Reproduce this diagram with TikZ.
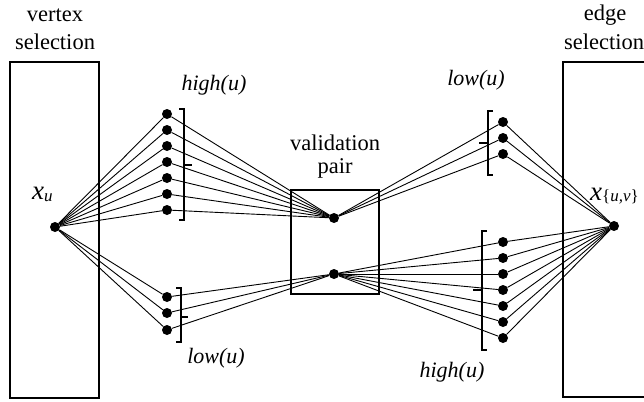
\documentclass[tikz,border=0pt]{standalone}
\usepackage{fontspec}
\setmainfont{Liberation Serif}
\begin{document}
\begin{tikzpicture}[x=1pt,y=-1pt,
  dot/.style={circle,fill=black,inner sep=0pt,minimum size=10pt},
  box/.style={draw=black,line width=2pt},
  wire/.style={draw=black,line width=0.9pt},
  brk/.style={draw=black,line width=1.6pt},
  lbl/.style={font=\fontsize{22.5}{24}\selectfont,inner sep=0pt,align=center},
  ilbl/.style={font=\fontsize{22}{24}\selectfont\itshape,inner sep=0pt}]
\clip (0,0) rectangle (644,401);
\fill[white] (0,0) rectangle (644,401);
% boxes
\draw[box] (10,62) rectangle (99,398);
\draw[box] (291,190) rectangle (379,294);
\draw[box] (563,62) rectangle (680,397);
% labels
\node[lbl] (vs1) at (55,15) {vertex};
\node[lbl] (vs2) at (55,42) {selection};
\node[lbl] (es1) at (605,15) {edge};
\node[lbl,anchor=west] (es2) at (564,42) {selection};
\node[lbl] (vp1) at (335,143) {validation};
\node[lbl] (vp2) at (335,168) {pair};
\node[ilbl] (hl) at (214,85) {high(u)};
\node[ilbl] (ll) at (216,358) {low(u)};
\node[ilbl] (lr) at (476,80) {low(u)};
\node[ilbl] (hr) at (452,372) {high(u)};
\node[ilbl,font=\fontsize{27}{28}\selectfont\itshape,anchor=west] (xul) at (32,194) {x\raisebox{-2pt}{\fontsize{17}{18}\selectfont u}};
\node[ilbl,font=\fontsize{27}{28}\selectfont\itshape,anchor=west] (xuvl) at (590,196) {x\raisebox{-1pt}{\fontsize{17}{18}\selectfont\upshape\{\itshape u,v\upshape\}}};
% main dots
\node[dot] (xu) at (55,227) {};
\node[dot] (mu) at (334,218) {};
\node[dot] (ml) at (334,274) {};
\node[dot] (xuv) at (614,226) {};
% left high
\foreach \i/\y in {1/114,2/130,3/146,4/162,5/178,6/194,7/210}{
  \node[dot] (lh\i) at (167,\y) {};
  \draw[wire] (xu) -- (lh\i);
  \draw[wire] (lh\i) -- (mu);
}
% left low
\foreach \i/\y in {1/297,2/313,3/330}{
  \node[dot] (ll\i) at (167,\y) {};
  \draw[wire] (xu) -- (ll\i);
  \draw[wire] (ll\i) -- (ml);
}
% right low
\foreach \i/\y in {1/122,2/138,3/154}{
  \node[dot] (rl\i) at (503,\y) {};
  \draw[wire] (mu) -- (rl\i);
  \draw[wire] (rl\i) -- (xuv);
}
% right high
\foreach \i/\y in {1/242,2/258,3/274,4/290,5/306,6/322,7/338}{
  \node[dot] (rh\i) at (503,\y) {};
  \draw[wire] (ml) -- (rh\i);
  \draw[wire] (rh\i) -- (xuv);
}
% brackets
\draw[brk] (179,109) -- (184,109) -- (184,220) -- (179,220);
\draw[brk] (184,165) -- (192,165);
\draw[brk] (176,288) -- (181,288) -- (181,342) -- (176,342);
\draw[brk] (181,317) -- (188,317);
\draw[brk] (493,111) -- (488,111) -- (488,175) -- (493,175);
\draw[brk] (488,143) -- (479,143);
\draw[brk] (487,231) -- (482,231) -- (482,350) -- (487,350);
\draw[brk] (482,290) -- (473,290);
\end{tikzpicture}
\end{document}
